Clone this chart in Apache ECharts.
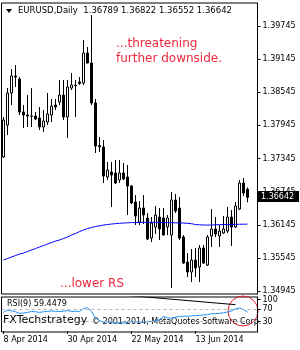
<!DOCTYPE html>
<html>
<head>
<meta charset="utf-8">
<script src="https://cdn.jsdelivr.net/npm/echarts@6/dist/echarts.min.js"></script>
<style>
  html, body { margin: 0; padding: 0; background: #fff; }
  #chart { width: 300px; height: 350px; }
</style>
</head>
<body>
<div id="chart"></div>
<script>
// daily bars, EURUSD
const dates = [
  '8 Apr 2014', '9 Apr 2014', '10 Apr 2014', '11 Apr 2014', '14 Apr 2014', '15 Apr 2014', '16 Apr 2014', '17 Apr 2014', '18 Apr 2014', '21 Apr 2014',
  '22 Apr 2014', '23 Apr 2014', '24 Apr 2014', '25 Apr 2014', '28 Apr 2014', '29 Apr 2014', '30 Apr 2014', '1 May 2014', '2 May 2014', '5 May 2014',
  '6 May 2014', '7 May 2014', '8 May 2014', '9 May 2014', '12 May 2014', '13 May 2014', '14 May 2014', '15 May 2014', '16 May 2014', '19 May 2014',
  '20 May 2014', '21 May 2014', '22 May 2014', '23 May 2014', '26 May 2014', '27 May 2014', '28 May 2014', '29 May 2014', '30 May 2014', '2 Jun 2014',
  '3 Jun 2014', '4 Jun 2014', '5 Jun 2014', '6 Jun 2014', '9 Jun 2014', '10 Jun 2014', '11 Jun 2014', '12 Jun 2014', '13 Jun 2014', '16 Jun 2014',
  '17 Jun 2014', '18 Jun 2014', '19 Jun 2014', '20 Jun 2014', '23 Jun 2014', '24 Jun 2014', '25 Jun 2014', '26 Jun 2014', '27 Jun 2014', '30 Jun 2014',
  '1 Jul 2014', '2 Jul 2014'
];
const opens = [
  1.37373, 1.37952, 1.38532, 1.38840, 1.38785, 1.38188, 1.38133, 1.38115, 1.38115, 1.38080,
  1.37916, 1.38006, 1.38133, 1.38314, 1.38369, 1.38495, 1.38097, 1.38622, 1.38677, 1.38731,
  1.38713, 1.39256, 1.39075, 1.38351, 1.37580, 1.37554, 1.37010, 1.37101, 1.37083, 1.36956,
  1.37083, 1.37010, 1.36847, 1.36558, 1.36195, 1.36449, 1.36268, 1.35906, 1.36105, 1.36286,
  1.36268, 1.36105, 1.35960, 1.36594, 1.36449, 1.35924, 1.35471, 1.35290, 1.35507, 1.35381,
  1.35725, 1.35417, 1.35942, 1.36069, 1.35942, 1.35996, 1.36032, 1.36286, 1.36105, 1.36431,
  1.36902, 1.36789
];
const highs = [
  1.38097, 1.38622, 1.38966, 1.39039, 1.38821, 1.38314, 1.38495, 1.38622, 1.38188, 1.38278,
  1.38224, 1.38532, 1.38423, 1.38423, 1.38767, 1.38767, 1.38767, 1.38894, 1.38767, 1.38821,
  1.39491, 1.39365, 1.39944, 1.38423, 1.37735, 1.37681, 1.37282, 1.37282, 1.37318, 1.37318,
  1.37264, 1.37228, 1.36866, 1.36684, 1.36576, 1.36684, 1.36358, 1.36286, 1.36485, 1.36449,
  1.36449, 1.36322, 1.36739, 1.36703, 1.36648, 1.35960, 1.35634, 1.35707, 1.35725, 1.35779,
  1.35779, 1.35960, 1.36431, 1.36286, 1.36141, 1.36304, 1.36467, 1.36413, 1.36558, 1.36956,
  1.36992, 1.36822
];
const lows = [
  1.37355, 1.37771, 1.38314, 1.38640, 1.38133, 1.37898, 1.37916, 1.37916, 1.38043, 1.37862,
  1.37825, 1.37952, 1.38006, 1.38224, 1.38314, 1.38043, 1.37717, 1.38586, 1.38097, 1.38677,
  1.38677, 1.39070, 1.38314, 1.37445, 1.37463, 1.36902, 1.36956, 1.36467, 1.36884, 1.36902,
  1.36956, 1.36322, 1.36521, 1.36141, 1.36141, 1.36159, 1.35870, 1.35833, 1.35978, 1.35870,
  1.35950, 1.35960, 1.35000, 1.36358, 1.35870, 1.35435, 1.35199, 1.35109, 1.35199, 1.35109,
  1.35435, 1.35399, 1.35743, 1.35924, 1.35743, 1.35978, 1.35996, 1.35761, 1.36087, 1.36413,
  1.36666, 1.36552
];
const closes = [
  1.38043, 1.38532, 1.38840, 1.38821, 1.38188, 1.38133, 1.38115, 1.38110, 1.38061, 1.37916,
  1.38025, 1.38151, 1.38296, 1.38278, 1.38495, 1.38097, 1.38640, 1.38677, 1.38667, 1.38704,
  1.39256, 1.39075, 1.38351, 1.37572, 1.37560, 1.37029, 1.37137, 1.37047, 1.36902, 1.37083,
  1.36974, 1.36847, 1.36540, 1.36304, 1.36449, 1.36322, 1.35888, 1.36177, 1.36322, 1.36069,
  1.35960, 1.36268, 1.36594, 1.36395, 1.35906, 1.35453, 1.35290, 1.35507, 1.35362, 1.35725,
  1.35453, 1.35924, 1.36069, 1.35978, 1.36032, 1.36069, 1.36286, 1.36105, 1.36485, 1.36902,
  1.36721, 1.36642
];
// long moving average (blue)
const maValues = [
  1.35507, 1.35534, 1.35562, 1.35589, 1.35616, 1.35634, 1.35661, 1.35688, 1.35716, 1.35743,
  1.35770, 1.35797, 1.35824, 1.35851, 1.35870, 1.35897, 1.35924, 1.35960, 1.35987, 1.36023,
  1.36051, 1.36078, 1.36096, 1.36114, 1.36127, 1.36141, 1.36150, 1.36159, 1.36166, 1.36172,
  1.36177, 1.36181, 1.36185, 1.36186, 1.36188, 1.36190, 1.36190, 1.36190, 1.36190, 1.36188,
  1.36186, 1.36185, 1.36183, 1.36181, 1.36179, 1.36177, 1.36172, 1.36165, 1.36150, 1.36145,
  1.36141, 1.36141, 1.36141, 1.36145, 1.36148, 1.36150, 1.36150, 1.36152, 1.36154, 1.36155,
  1.36156, 1.36158
];
const rsiValues = [
  59.5, 66.5, 64, 61, 56, 57, 59, 62, 61, 59,
  61, 62.5, 63.5, 62.5, 62, 62.5, 65, 62, 62.5, 62,
  71, 74, 62, 41, 33, 28, 29.5, 26.5, 25, 26.5,
  25, 28, 30, 29, 28, 29, 29.5, 30, 33, 36,
  46, 42, 40, 44, 46, 47, 47, 48, 49, 49.5,
  51, 52, 55, 55, 56, 58, 60, 64, 70, 73,
  68, 59.4479
];
const rsiTrendline = [[20, 125], [58, 83.5]];
const rsiLevels = [70, 30];
const priceTicks = [1.34945, 1.35545, 1.36145, 1.36745, 1.37345, 1.37945, 1.38545, 1.39145, 1.39745];
const rsiTicks = [30, 70, 100];
const lastPrice = 1.36642;

const FONT = 'DejaVu Sans';
const candles = opens.map((o, i) => [o, closes[i], lows[i], highs[i]]);

const chart = echarts.init(document.getElementById('chart'), null, { renderer: 'canvas' });

const graphics = [
  { type: 'polygon', shape: { points: [[6, 9], [12, 9], [9, 13]] }, style: { fill: '#000' } },
  {
    type: 'text', left: 18, top: 6,
    style: { text: 'EURUSD,Daily  1.36789 1.36822 1.36552 1.36642', font: '8.5px "DejaVu Sans"', fill: '#000' }
  },
  {
    type: 'text', left: 116, top: 36,
    style: { text: '...threatening\nfurther downside.', font: '12px "DejaVu Sans"', fill: '#f0283c', lineHeight: 15 }
  },
  {
    type: 'text', left: 60, top: 278,
    style: { text: '...lower RS', font: '12px "DejaVu Sans"', fill: '#f0283c' }
  },
  {
    type: 'text', left: 7, top: 300,
    style: { text: 'RSI(9) 59.4479', font: '8px "DejaVu Sans"', fill: '#000' }
  },
  {
    type: 'text', left: 3, top: 315,
    style: { text: 'FXTechstrategy', font: '11px "DejaVu Sans"', fill: '#000' }
  },
  {
    type: 'text', left: 92, top: 318,
    style: { text: '\u00a9 2001-2014, MetaQuotes Software Corp.', font: '8px "DejaVu Sans"', fill: '#000' }
  },
  {
    type: 'circle', shape: { cx: 243, cy: 311, r: 15 },
    style: { fill: 'none', stroke: '#e8202a', lineWidth: 1 }
  }
];

const option = {
  animation: false,
  backgroundColor: '#fff',
  grid: [
    { left: 1.5, top: 3, width: 256, height: 291, show: true, borderColor: '#000', borderWidth: 1 },
    { left: 1.5, top: 297, width: 256, height: 35, show: true, borderColor: '#000', borderWidth: 1 }
  ],
  xAxis: [
    {
      type: 'category', gridIndex: 0, data: dates, max: 63, boundaryGap: true,
      axisLine: { show: false }, axisTick: { show: false }, axisLabel: { show: false }, splitLine: { show: false }
    },
    {
      type: 'category', gridIndex: 1, data: dates, max: 63, boundaryGap: true,
      axisLine: { show: false },
      axisTick: { show: true, alignWithLabel: true, interval: 15, length: 3, lineStyle: { color: '#000' } },
      axisLabel: { interval: 15, align: 'left', margin: 4, fontSize: 8, fontFamily: FONT, color: '#000' },
      splitLine: { show: false }
    }
  ],
  yAxis: [
    {
      type: 'value', gridIndex: 0, position: 'right', min: 1.34892, max: 1.40162, scale: true,
      axisLine: { show: true, lineStyle: { color: '#000' } },
      axisTick: { show: true, length: 3, customValues: priceTicks, lineStyle: { color: '#000' } },
      axisLabel: {
        customValues: priceTicks, margin: 5, fontSize: 8, fontFamily: FONT, color: '#000',
        formatter: (v) => v.toFixed(5)
      },
      splitLine: { show: false }
    },
    {
      type: 'value', gridIndex: 1, position: 'right', min: -3.2, max: 107.9,
      axisLine: { show: true, lineStyle: { color: '#000' } },
      axisTick: { show: true, length: 3, customValues: rsiTicks, lineStyle: { color: '#000' } },
      axisLabel: { customValues: rsiTicks, margin: 5, fontSize: 8, fontFamily: FONT, color: '#000' },
      splitLine: { show: false }
    }
  ],
  series: [
    {
      name: 'EURUSD', type: 'candlestick', xAxisIndex: 0, yAxisIndex: 0,
      data: candles, barWidth: 2,
      itemStyle: { color: '#fff', color0: '#000', borderColor: '#000', borderColor0: '#000', borderWidth: 1 }
    },
    {
      name: 'MA', type: 'line', xAxisIndex: 0, yAxisIndex: 0,
      data: maValues, symbol: 'none', lineStyle: { color: '#0000ff', width: 1 }
    },
    {
      name: 'RSI(9)', type: 'line', xAxisIndex: 1, yAxisIndex: 1,
      data: rsiValues, symbol: 'none', lineStyle: { color: '#1e90ff', width: 1 },
      markLine: {
        silent: true, symbol: 'none', label: { show: false },
        lineStyle: { color: '#b4b4b4', type: [3, 3], width: 1 },
        data: rsiLevels.map((v) => ({ yAxis: v }))
      }
    },
    {
      name: 'trend', type: 'line', xAxisIndex: 1, yAxisIndex: 1,
      data: rsiTrendline, symbol: 'none', clip: true,
      lineStyle: { color: '#000', width: 1 }
    }
  ],
  graphic: graphics
};

chart.setOption(option);

// bid price tag on the right axis, placed through the price scale
const tagY = Math.round(chart.convertToPixel({ yAxisIndex: 0 }, lastPrice));
option.graphic = graphics.concat([
  { type: 'rect', z: 100, shape: { x: 258, y: tagY - 6, width: 41, height: 11 }, style: { fill: '#000' } },
  {
    type: 'text', z: 101, x: 261, y: tagY,
    style: { text: lastPrice.toFixed(5), font: '8px "DejaVu Sans"', fill: '#fff', textVerticalAlign: 'middle' }
  }
]);
chart.setOption(option, true);
</script>
</body>
</html>
